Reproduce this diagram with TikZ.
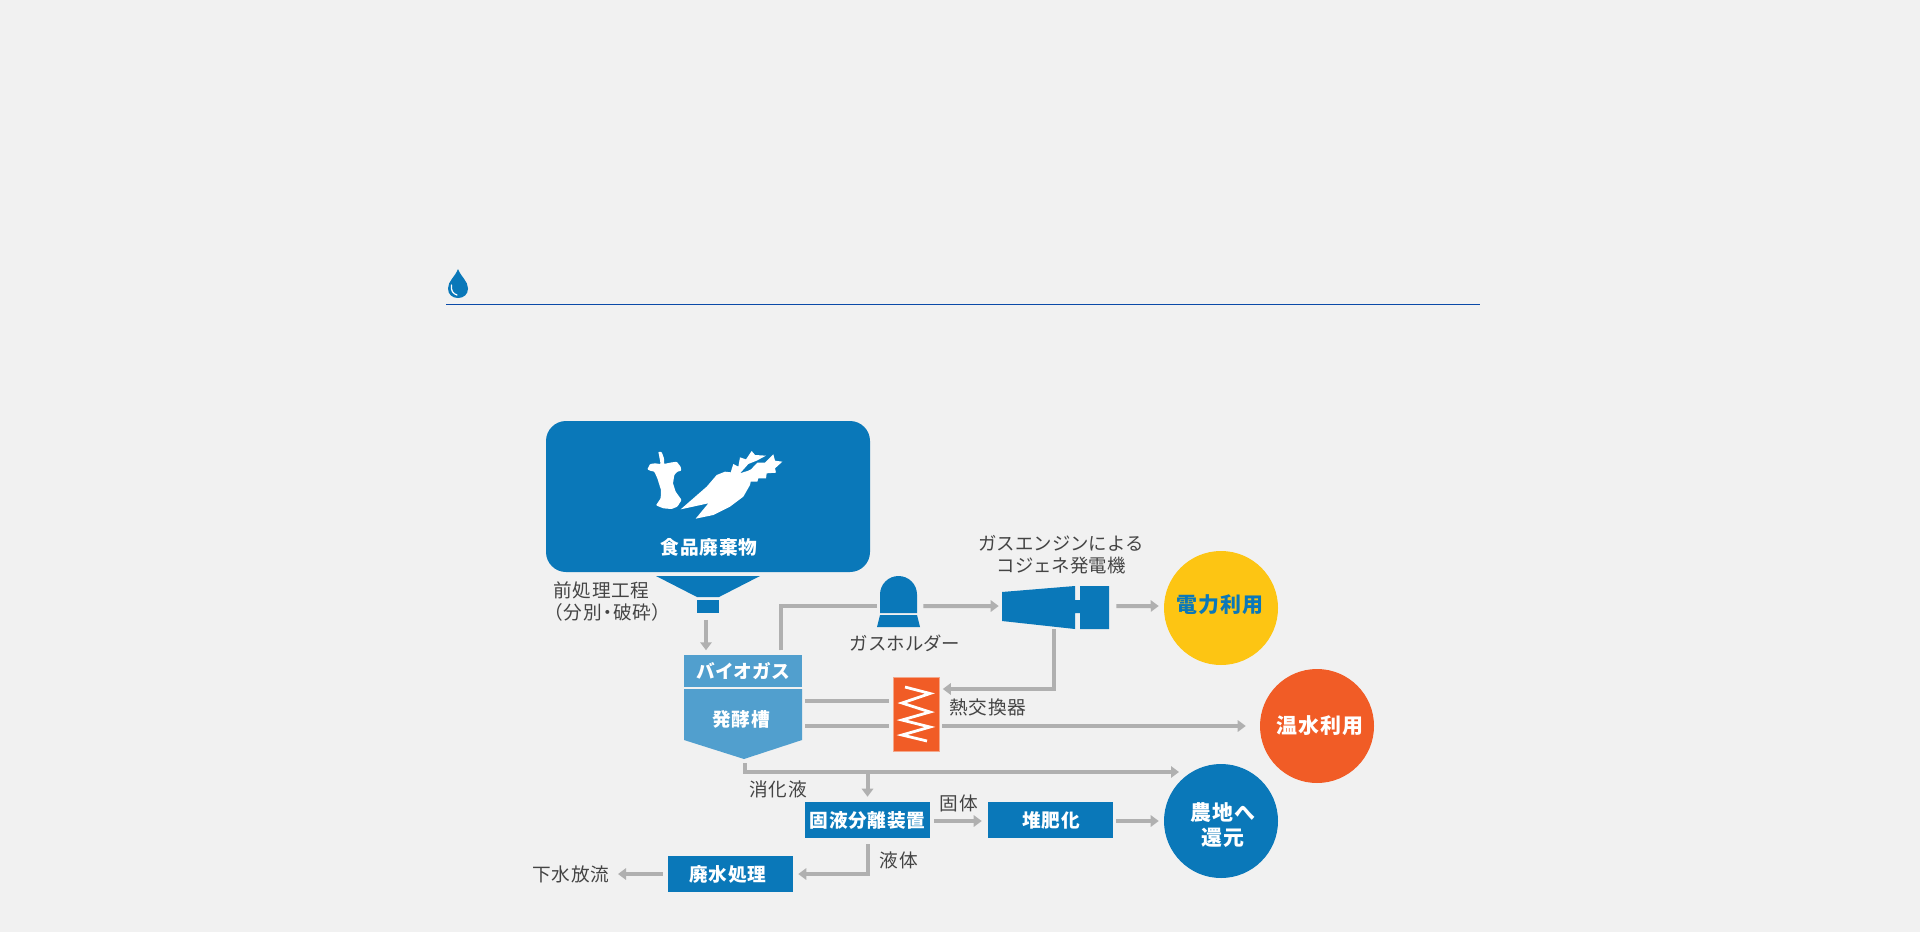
\documentclass[tikz,border=0pt]{standalone}
\usepackage{fontspec}
\usetikzlibrary{arrows.meta}
\setmainfont{Noto Sans CJK JP}[LetterSpace=4]
\newfontfamily\palfont{Noto Sans CJK JP}[RawFeature=+palt,LetterSpace=5]
\newfontfamily\kanafont{Noto Sans CJK JP}
\definecolor{bg}{HTML}{F1F1F1}
\definecolor{mainblue}{HTML}{0A78B9}
\definecolor{lightblue}{HTML}{519FCE}
\definecolor{rulecol}{HTML}{0A4AA8}
\definecolor{gold}{HTML}{FDC513}
\definecolor{hot}{HTML}{F15C26}
\definecolor{hotedge}{HTML}{F4A78A}
\definecolor{pipe}{HTML}{B0B0B0}
\definecolor{ink}{HTML}{444444}
\tikzset{
  lab/.style={inner sep=0pt,text=ink,font=\fontsize{14pt}{17pt}\selectfont,anchor=center},
  klab/.style={inner sep=0pt,text=ink,font=\kanafont\fontsize{13.8pt}{17pt}\selectfont,anchor=center},
  wlab/.style={inner sep=0pt,text=white,font=\bfseries\fontsize{14pt}{17pt}\selectfont,anchor=center},
  klabw/.style={inner sep=0pt,text=white,font=\kanafont\bfseries\fontsize{14pt}{17pt}\selectfont,anchor=center},
  biglab/.style={inner sep=0pt,text=#1,font=\bfseries\fontsize{15.7pt}{18pt}\selectfont,anchor=center},
  slot/.style={inner sep=0pt,minimum width=#1},
  bluebox/.style={fill=mainblue,inner sep=0pt,minimum width=93.75pt,minimum height=27pt},
  disc/.style={circle,inner sep=0pt,minimum size=85.5pt,fill=#1},
  line/.style={draw=pipe,line width=3pt},
  flow/.style={line,-{Triangle[length=6pt,width=8.5pt]}},
}
\begin{document}
\begin{tikzpicture}[x=0.75pt,y=-0.75pt]
\useasboundingbox (0,0) rectangle (1920,932);
\fill[bg] (0,0) rectangle (1920,932);

% heading mark and rule
\fill[mainblue] (458,269) .. controls (461,277) and (468,281) .. (468,288.5)
  .. controls (468,294.5) and (463.5,298) .. (458,298)
  .. controls (452.5,298) and (448,294.5) .. (448,288.5)
  .. controls (448,281) and (455,277) .. (458,269) -- cycle;
\draw[white,line width=0.9pt,line cap=round] (451.5,285) .. controls (450.5,290) and (453,294) .. (457,295);
\draw[rulecol,line width=1pt] (446,304.3) -- (1480,304.3);

% food waste hopper
\node[slot=243pt,minimum height=113.25pt,fill=mainblue,rounded corners=15pt] (waste) at (708,496.5) {};
\begin{scope}[shift={(620,440)},x=0.25pt,y=-0.25pt]
\fill[white,rounded corners=0.6pt] (82,88) -- (90,72) -- (105,70) -- (122,72) -- (115,35) -- (125,36) -- (132,55) -- (132,72)
  -- (150,68) -- (170,65) -- (182,80) -- (184,92) -- (172,95) -- (163,105) -- (159,130) -- (167,155)
  -- (185,180) -- (172,200) -- (155,207) -- (130,205) -- (108,196) -- (122,175) -- (123,150)
  -- (112,115) -- (103,95) -- (90,92) -- cycle;
\fill[white] (182,208) -- (260,140) -- (290,105) -- (315,95) -- (332,97) -- (340,72) -- (355,80)
  -- (360,52) -- (378,58) -- (395,33) -- (405,45) -- (438,47) -- (410,62) -- (385,72) -- (360,100)
  -- (385,92) -- (393,88) -- (412,68) -- (435,68) -- (460,43) -- (465,62) -- (487,65) -- (465,85)
  -- (468,98) -- (440,100) -- (438,115) -- (415,115) -- (412,125) -- (392,125) -- (390,135)
  -- (370,170) -- (330,200) -- (280,225) -- (227,236) -- (265,190) -- cycle;
\end{scope}
\node[wlab] (wastelab) at (709,547) {食品廃棄物};
\fill[mainblue] (656,576) -- (760,576) -- (719,597) -- (697,597) -- cycle;
\node[slot=16.5pt,minimum height=9.75pt,fill=mainblue] (crush) at (708,606.5) {};
\node[lab,anchor=west] (prelab) at (553,590) {前処理工程};
\node[lab,anchor=west] (prelabb) at (553,612) {\palfont （分別・破砕）};

% digester
\node[slot=88.5pt,minimum height=24pt,fill=lightblue] (bio) at (743,671) {};
\node[klabw] (biolab) at (743,671) {バイオガス};
\fill[lightblue] (684,689) -- (802,689) -- (802,740) -- (744,759) -- (684,740) -- cycle;
\node[slot=88.5pt,minimum height=52.5pt] (tank) at (743,724) {};
\node[wlab] (tanklab) at (741,719) {発酵槽};

% gas holder
\node[slot=32.25pt,minimum height=45pt] (hold) at (898.5,606) {};
\fill[mainblue] (880,613) -- (880,594.5) arc[start angle=180,end angle=360,radius=18.5] -- (917,613) -- cycle;
\fill[mainblue] (880,615) -- (917,615) -- (920,627) -- (877,627) -- cycle;
\node[klab] (holdlab) at (905,643) {ガスホルダー};

% engine
\node[slot=80.25pt,minimum height=32.25pt] (eng) at (1055.5,607.5) {};
\fill[mainblue] (1002,592) -- (1075,586) -- (1075,600) -- (1080,600) -- (1080,586) -- (1109,586) -- (1109,629)
  -- (1080,629) -- (1080,613) -- (1075,613) -- (1075,629) -- (1002,621) -- cycle;
\node[klab] (englab) at (1061,543) {ガスエンジンによる};
\node[klab] (englabb) at (1061,566) {コジェネ発電機};

% heat exchanger
\node[slot=34.5pt,minimum height=55.5pt,fill=hot,draw=hotedge,line width=0.5pt] (hx) at (916,714) {};
\draw[white,line width=2.1pt] (905,687) -- (930,693.5) -- (902,703) -- (930,712) -- (902,720) -- (930,727) -- (902,735) -- (927,741);
\node[lab] (hxlab) at (988,707) {熱交換器};

% outputs
\node[disc=gold] (power) at (1221,608) {};
\node[biglab=mainblue] (powerlab) at (1220,605) {電力利用};
\node[disc=hot] (warm) at (1317,726) {};
\node[biglab=white] (warmlab) at (1320,726) {温水利用};
\node[disc=mainblue] (farm) at (1221,821) {};
\node[biglab=white] (farmlab) at (1223,813) {農地へ};
\node[biglab=white] (farmlabb) at (1223,838) {還元};

% solids and liquids
\node[bluebox] (sep) at (867.5,820) {};
\node[wlab] (seplab) at (867.5,820) {固液分離装置};
\node[bluebox] (comp) at (1050.5,820) {};
\node[wlab] (complab) at (1051,820) {堆肥化};
\node[bluebox] (treat) at (730.5,874) {};
\node[wlab] (treatlab) at (728,874) {廃水処理};
\node[lab] (sewer) at (571,874) {下水放流};
\node[lab] (diglab) at (778,789) {消化液};
\node[lab] (solid) at (959,803) {固体};
\node[lab] (liquid) at (899,860) {液体};

% free connector ends and junctions
\coordinate (digend) at (1179,772);
\coordinate (digjoin) at (867.5,772);
\coordinate (sewerend) at (618,874);

% connectors
\draw[flow,shorten <=5pt] (crush.south) ++(-1.5pt,0) -- ++(0,-37*0.75pt);
\draw[line,shorten <=3.5pt] ([xshift=28.5pt]bio.north) |- (hold.west);
\draw[flow,shorten <=2.25pt,shorten >=2.25pt] (hold.east) -- ([yshift=1.1pt]eng.west);
\draw[flow,shorten <=5.25pt,shorten >=3.75pt] ([yshift=1.1pt]eng.east) -- ([yshift=1.5pt]power.west);
\draw[flow,shorten >=2.6pt] ([xshift=-1.1pt]eng.south) |- ([yshift=18.75pt]hx.east);
\draw[line,shorten <=2.25pt,shorten >=3pt] ([yshift=17.25pt]tank.east) -- ([yshift=9.75pt]hx.west);
\draw[line,shorten <=2.25pt,shorten >=3pt] ([yshift=-1.5pt]tank.east) -- ([yshift=-9pt]hx.west);
\draw[flow,shorten <=2.25pt,shorten >=10.5pt] ([yshift=-9pt]hx.east) -- (warm.west);
\draw[flow,shorten <=3pt] ([xshift=1.5pt]tank.south) |- (digend);
\draw[flow,shorten >=3.75pt] (digjoin) -- (sep.north);
\draw[flow,shorten <=3pt,shorten >=4.5pt] ([yshift=-0.75pt]sep.east) -- ([yshift=-0.75pt]comp.west);
\draw[flow,shorten <=2.25pt,shorten >=3.75pt] ([yshift=-0.75pt]comp.east) -- (farm.west);
\draw[flow,shorten <=4.5pt,shorten >=3.75pt] (sep.south) |- (treat.east);
\draw[flow,shorten <=3.75pt] (treat.west) -- (sewerend);
\end{tikzpicture}
\end{document}
